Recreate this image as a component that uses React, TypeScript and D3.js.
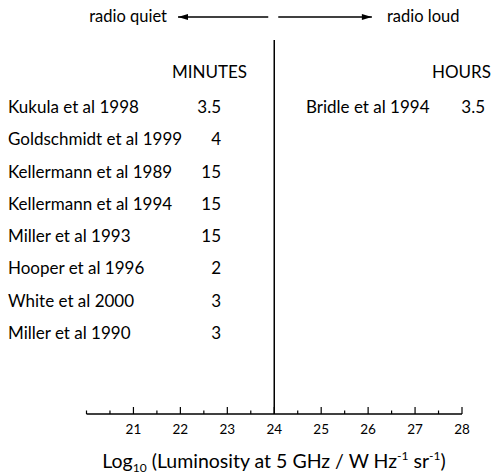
import React, { useRef, useEffect } from 'react';
import * as d3 from 'd3';

const quietRefs = [
  'Kukula et al 1998',
  'Goldschmidt et al 1999',
  'Kellermann et al 1989',
  'Kellermann et al 1994',
  'Miller et al 1993',
  'Hooper et al 1996',
  'White et al 2000',
  'Miller et al 1990',
];
const quietMinutes = ['3.5', '4', '15', '15', '15', '2', '3', '3'];
const loudRefs = ['Bridle et al 1994'];
const loudHours = ['3.5'];
const majorTicks = [21, 22, 23, 24, 25, 26, 27, 28];
const minorTicks = [20, 20.5, 21.5, 22.5, 23.5, 24.5, 25.5, 26.5, 27.5];
const divide = 24;

const App = () => {
  const svgRef = useRef(null);

  useEffect(() => {
    const width = 493;
    const height = 476;
    const font = 'Lato, sans-serif';
    const axisY = 414;
    const labelSize = 17;

    const svg = d3.select(svgRef.current)
      .attr('width', width)
      .attr('height', height)
      .style('position', 'absolute')
      .style('left', 0)
      .style('top', 0);
    svg.selectAll('*').remove();

    const x = d3.scaleLinear().domain([20, 28]).range([86.5, 462]);
    const row = d3.scalePoint<number>()
      .domain(d3.range(quietRefs.length))
      .range([107, 333]);

    // arrow heads
    const defs = svg.append('defs');
    defs.append('marker')
      .attr('id', 'head')
      .attr('viewBox', '0 0 10 6')
      .attr('refX', 10).attr('refY', 3)
      .attr('markerWidth', 17).attr('markerHeight', 6)
      .attr('markerUnits', 'userSpaceOnUse')
      .attr('orient', 'auto')
      .append('path').attr('d', 'M0,0 L10,3 L0,6 Z').attr('fill', '#000');

    svg.append('line')
      .attr('x1', x(divide) - 6).attr('x2', x(21.95))
      .attr('y1', 17).attr('y2', 17)
      .attr('stroke', '#000').attr('stroke-width', 1.5)
      .attr('marker-end', 'url(#head)');
    svg.append('line')
      .attr('x1', x(divide) + 4).attr('x2', x(26.08))
      .attr('y1', 17).attr('y2', 17)
      .attr('stroke', '#000').attr('stroke-width', 1.5)
      .attr('marker-end', 'url(#head)');

    svg.append('text')
      .attr('x', 167).attr('y', 22)
      .attr('text-anchor', 'end')
      .attr('font-family', font).attr('font-size', 16.5)
      .text('radio quiet');
    svg.append('text')
      .attr('x', 387).attr('y', 22)
      .attr('font-family', font).attr('font-size', 16.5)
      .text('radio loud');

    // dividing line
    svg.append('line')
      .attr('x1', x(divide)).attr('x2', x(divide))
      .attr('y1', 40).attr('y2', axisY)
      .attr('stroke', '#000').attr('stroke-width', 1.5);

    svg.append('text')
      .attr('x', 247).attr('y', 78)
      .attr('text-anchor', 'end')
      .attr('font-family', font).attr('font-size', 17)
      .text('MINUTES');
    svg.append('text')
      .attr('x', 491).attr('y', 78)
      .attr('text-anchor', 'end')
      .attr('font-family', font).attr('font-size', 17)
      .text('HOURS');

    svg.selectAll('.qref')
      .data(quietRefs)
      .enter().append('text')
      .attr('class', 'qref')
      .attr('x', 8)
      .attr('y', (d, i) => row(i) + 6)
      .attr('font-family', font).attr('font-size', labelSize)
      .text(d => d);

    svg.selectAll('.qval')
      .data(quietMinutes)
      .enter().append('text')
      .attr('class', 'qval')
      .attr('x', 221)
      .attr('y', (d, i) => row(i) + 6)
      .attr('text-anchor', 'end')
      .attr('font-family', font).attr('font-size', labelSize)
      .text(d => d);

    svg.selectAll('.lref')
      .data(loudRefs)
      .enter().append('text')
      .attr('class', 'lref')
      .attr('x', 306)
      .attr('y', (d, i) => row(i) + 6)
      .attr('font-family', font).attr('font-size', labelSize)
      .text(d => d);

    svg.selectAll('.lval')
      .data(loudHours)
      .enter().append('text')
      .attr('class', 'lval')
      .attr('x', 485)
      .attr('y', (d, i) => row(i) + 6)
      .attr('text-anchor', 'end')
      .attr('font-family', font).attr('font-size', labelSize)
      .text(d => d);

    // axis
    const axis = svg.append('g');
    axis.append('line')
      .attr('x1', x(20)).attr('x2', x(28))
      .attr('y1', axisY).attr('y2', axisY)
      .attr('stroke', '#000').attr('stroke-width', 1.5);
    axis.selectAll('.major')
      .data(majorTicks)
      .enter().append('line')
      .attr('class', 'major')
      .attr('x1', d => x(d)).attr('x2', d => x(d))
      .attr('y1', axisY - 7).attr('y2', axisY)
      .attr('stroke', '#000').attr('stroke-width', 1.2);
    axis.selectAll('.minor')
      .data(minorTicks)
      .enter().append('line')
      .attr('class', 'minor')
      .attr('x1', d => x(d)).attr('x2', d => x(d))
      .attr('y1', axisY - 3.5).attr('y2', axisY)
      .attr('stroke', '#000').attr('stroke-width', 1.2);
    axis.selectAll('.tl')
      .data(majorTicks)
      .enter().append('text')
      .attr('class', 'tl')
      .attr('x', d => x(d)).attr('y', 434)
      .attr('text-anchor', 'middle')
      .attr('font-family', font).attr('font-size', 13.5)
      .text(d => d);

    const title = svg.append('text')
      .attr('x', 274).attr('y', 468)
      .attr('text-anchor', 'middle')
      .attr('font-family', font).attr('font-size', 19.5);
    title.append('tspan').text('Log');
    title.append('tspan').attr('font-size', 12).attr('dy', 4).text('10');
    title.append('tspan').attr('dy', -4).text(' (Luminosity at 5 GHz / W Hz');
    title.append('tspan').attr('font-size', 12).attr('dy', -8).text('-1');
    title.append('tspan').attr('dy', 8).text(' sr');
    title.append('tspan').attr('font-size', 12).attr('dy', -8).text('-1');
    title.append('tspan').attr('dy', 8).text(')');
  }, []);

  return <svg ref={svgRef}></svg>;
};

export default App;
